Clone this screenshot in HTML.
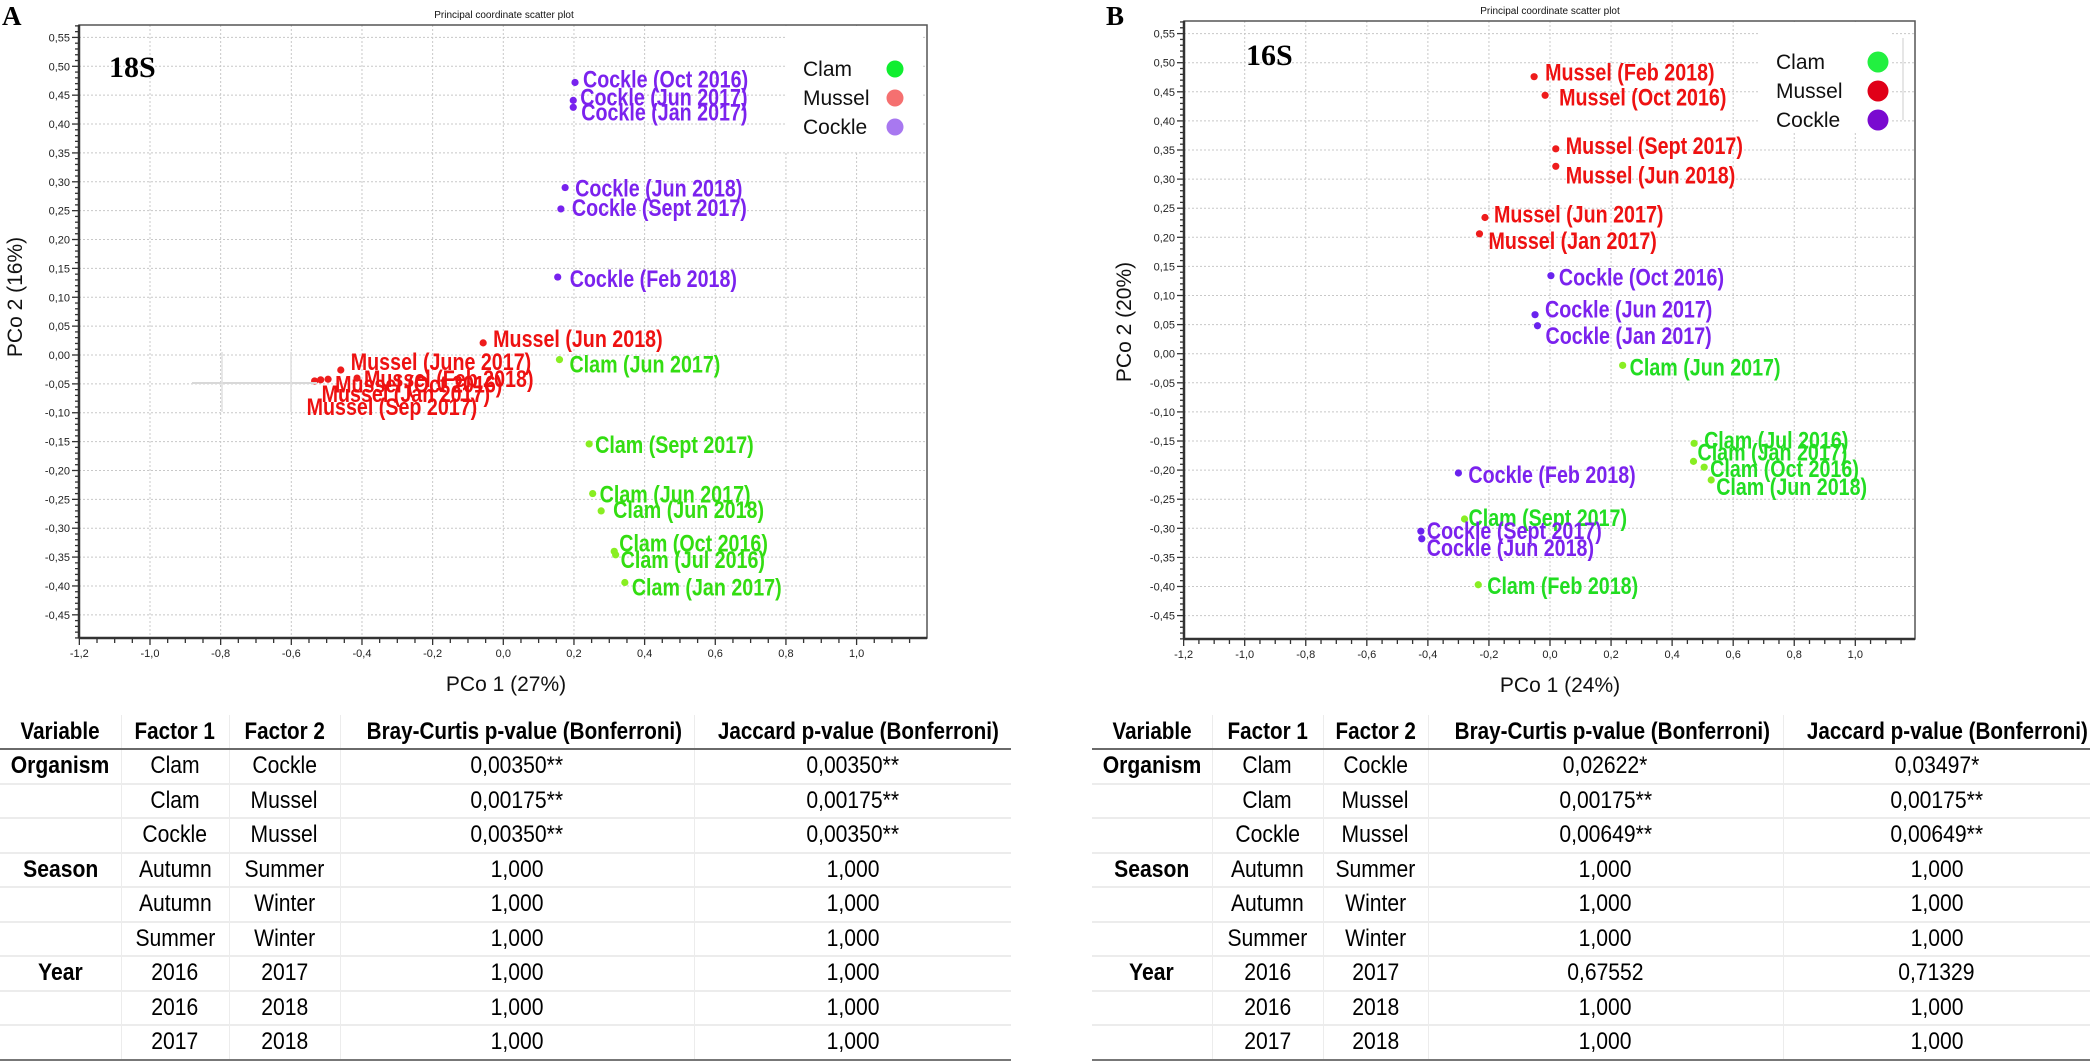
<!DOCTYPE html>
<html><head><meta charset="utf-8">
<style>
html,body{margin:0;padding:0;background:#fff;}
body{width:2094px;height:1064px;position:relative;overflow:hidden;font-family:"Liberation Sans",sans-serif;}
svg{position:absolute;left:0;top:0;}
table{position:absolute;border-collapse:collapse;table-layout:fixed;font-family:"Liberation Sans",sans-serif;}
td,th{padding:0;text-align:center;white-space:nowrap;overflow:visible;border-left:1px solid #ececec;}
td:first-child,th:first-child{border-left:none;}
th{height:33px;font-weight:bold;font-size:24px;border-bottom:2px solid #6a6a6a;}
td{height:32.5px;font-size:24px;border-bottom:2px solid #ececec;}
tr:last-child td{border-bottom:2px solid #777;}
th span{display:inline-block;transform:scaleX(0.86);}
td span{display:inline-block;transform:scaleX(0.88);}
td.v span{font-weight:bold;}
</style></head>
<body>
<svg id="chart" width="2094" height="1064" xmlns="http://www.w3.org/2000/svg"></svg>

<table style="left:0;top:715px;width:1011px;">
<colgroup><col style="width:121px"><col style="width:108px"><col style="width:111px"><col style="width:354px"><col style="width:317px"></colgroup>
<tr><th><span>Variable</span></th><th><span>Factor 1</span></th><th><span>Factor 2</span></th><th><span>Bray-Curtis p-value (Bonferroni)</span></th><th><span>Jaccard p-value (Bonferroni)</span></th></tr>
<tr><td class="v"><span>Organism</span></td><td><span>Clam</span></td><td><span>Cockle</span></td><td><span>0,00350**</span></td><td><span>0,00350**</span></td></tr>
<tr><td></td><td><span>Clam</span></td><td><span>Mussel</span></td><td><span>0,00175**</span></td><td><span>0,00175**</span></td></tr>
<tr><td></td><td><span>Cockle</span></td><td><span>Mussel</span></td><td><span>0,00350**</span></td><td><span>0,00350**</span></td></tr>
<tr><td class="v"><span>Season</span></td><td><span>Autumn</span></td><td><span>Summer</span></td><td><span>1,000</span></td><td><span>1,000</span></td></tr>
<tr><td></td><td><span>Autumn</span></td><td><span>Winter</span></td><td><span>1,000</span></td><td><span>1,000</span></td></tr>
<tr><td></td><td><span>Summer</span></td><td><span>Winter</span></td><td><span>1,000</span></td><td><span>1,000</span></td></tr>
<tr><td class="v"><span>Year</span></td><td><span>2016</span></td><td><span>2017</span></td><td><span>1,000</span></td><td><span>1,000</span></td></tr>
<tr><td></td><td><span>2016</span></td><td><span>2018</span></td><td><span>1,000</span></td><td><span>1,000</span></td></tr>
<tr><td></td><td><span>2017</span></td><td><span>2018</span></td><td><span>1,000</span></td><td><span>1,000</span></td></tr>
</table>

<table style="left:1092px;top:715px;width:998px;">
<colgroup><col style="width:120px"><col style="width:111px"><col style="width:105px"><col style="width:355px"><col style="width:307px"></colgroup>
<tr><th><span>Variable</span></th><th><span>Factor 1</span></th><th><span>Factor 2</span></th><th><span>Bray-Curtis p-value (Bonferroni)</span></th><th><span>Jaccard p-value (Bonferroni)</span></th></tr>
<tr><td class="v"><span>Organism</span></td><td><span>Clam</span></td><td><span>Cockle</span></td><td><span>0,02622*</span></td><td><span>0,03497*</span></td></tr>
<tr><td></td><td><span>Clam</span></td><td><span>Mussel</span></td><td><span>0,00175**</span></td><td><span>0,00175**</span></td></tr>
<tr><td></td><td><span>Cockle</span></td><td><span>Mussel</span></td><td><span>0,00649**</span></td><td><span>0,00649**</span></td></tr>
<tr><td class="v"><span>Season</span></td><td><span>Autumn</span></td><td><span>Summer</span></td><td><span>1,000</span></td><td><span>1,000</span></td></tr>
<tr><td></td><td><span>Autumn</span></td><td><span>Winter</span></td><td><span>1,000</span></td><td><span>1,000</span></td></tr>
<tr><td></td><td><span>Summer</span></td><td><span>Winter</span></td><td><span>1,000</span></td><td><span>1,000</span></td></tr>
<tr><td class="v"><span>Year</span></td><td><span>2016</span></td><td><span>2017</span></td><td><span>0,67552</span></td><td><span>0,71329</span></td></tr>
<tr><td></td><td><span>2016</span></td><td><span>2018</span></td><td><span>1,000</span></td><td><span>1,000</span></td></tr>
<tr><td></td><td><span>2017</span></td><td><span>2018</span></td><td><span>1,000</span></td><td><span>1,000</span></td></tr>
</table>

<script>
// ---- 18S data ----
const labels18 = ["Cockle (Oct 2016)","Cockle (Jun 2017)","Cockle (Jan 2017)","Cockle (Jun 2018)","Cockle (Sept 2017)","Cockle (Feb 2018)","Mussel (Jun 2018)","Clam (Jun 2017)","Clam (Sept 2017)","Clam (Jun 2017)","Clam (Jun 2018)","Clam (Oct 2016)","Clam (Jul 2016)","Clam (Jan 2017)","Mussel (June 2017)","Mussel (Feb 2018)","Mussel (Oct 2016)","Mussel (Jan 2017)","Mussel (Sep 2017)"];
const groups18 = ["Cockle","Cockle","Cockle","Cockle","Cockle","Cockle","Mussel","Clam","Clam","Clam","Clam","Clam","Clam","Clam","Mussel","Mussel","Mussel","Mussel","Mussel"];
const pco1_18 = [0.203,0.198,0.198,0.175,0.163,0.154,-0.057,0.159,0.243,0.253,0.277,0.314,0.318,0.344,-0.460,-0.414,-0.496,-0.517,-0.534];
const pco2_18 = [0.472,0.441,0.429,0.290,0.253,0.135,0.021,-0.008,-0.154,-0.240,-0.270,-0.340,-0.346,-0.394,-0.026,-0.040,-0.042,-0.043,-0.045];
const lblDx18 = [8,7,8,10,11,12,10,10,6,7,12,5,5,7,10,7,7,1,-8];
const lblDy18 = [5,5,13,9,7,10,4,13,9,9,7,0,13,13,0,9,13,22,34];
// ---- 16S data ----
const labels16 = ["Mussel (Feb 2018)","Mussel (Oct 2016)","Mussel (Sept 2017)","Mussel (Jun 2018)","Mussel (Jun 2017)","Mussel (Jan 2017)","Cockle (Oct 2016)","Cockle (Jun 2017)","Cockle (Jan 2017)","Clam (Jun 2017)","Clam (Jul 2016)","Clam (Jan 2017)","Clam (Oct 2016)","Clam (Jun 2018)","Cockle (Feb 2018)","Clam (Sept 2017)","Cockle (Sept 2017)","Cockle (Jun 2018)","Clam (Feb 2018)"];
const groups16 = ["Mussel","Mussel","Mussel","Mussel","Mussel","Mussel","Cockle","Cockle","Cockle","Clam","Clam","Clam","Clam","Clam","Cockle","Clam","Cockle","Cockle","Clam"];
const pco1_16 = [-0.052,-0.016,0.019,0.019,-0.213,-0.231,0.003,-0.049,-0.041,0.238,0.472,0.470,0.505,0.528,-0.300,-0.280,-0.423,-0.420,-0.235];
const pco2_16 = [0.476,0.444,0.352,0.322,0.234,0.206,0.134,0.067,0.048,-0.020,-0.154,-0.185,-0.195,-0.217,-0.205,-0.284,-0.305,-0.318,-0.397];
const lblDx16 = [11,14,10,10,9,9,8,10,8,7,10,4,6,5,10,4,6,5,9];
const lblDy16 = [4,10,5,17,5,15,10,3,18,10,5,-1,10,15,10,7,8,17,9];
// ---- axis ticks ----
const yTicks = [-0.45,-0.40,-0.35,-0.30,-0.25,-0.20,-0.15,-0.10,-0.05,0,0.05,0.10,0.15,0.20,0.25,0.30,0.35,0.40,0.45,0.50,0.55];
const xTicks = [-1.2,-1.0,-0.8,-0.6,-0.4,-0.2,0,0.2,0.4,0.6,0.8,1.0];
const legendNames = ["Clam","Mussel","Cockle"];

const NS = "http://www.w3.org/2000/svg";
const svg = document.getElementById("chart");
function mk(tag, attrs, parent){
  const e = document.createElementNS(NS, tag);
  for (const k in attrs) e.setAttribute(k, attrs[k]);
  (parent||svg).appendChild(e);
  return e;
}
function fmt(v, d){ return v.toFixed(d).replace(".", ",").replace(/^-0,00$/,"0,00").replace(/^-0,0$/,"0,0"); }

function drawPlot(cfg){
  const g = mk("g", {});
  
  
  const xs = v => cfg.x0 + v*cfg.xu;
  const ys = v => cfg.y0 - v*cfg.yu;
  const L = cfg.left, R = cfg.right, T = cfg.top, B = cfg.bottom;
  xTicks.forEach(t => {
    const gl = mk("line", {x1:xs(t), x2:xs(t), y1:T, y2:B, stroke:"#c8c8c8", "stroke-width":1, "stroke-dasharray":"2,2"}, g);
    
    
  });
  yTicks.forEach(t => {
    const gl = mk("line", {x1:L, x2:R, y1:ys(t), y2:ys(t), stroke:"#c8c8c8", "stroke-width":1, "stroke-dasharray":"2,2"}, g);
    
    
  });
  const lb = mk("rect", {x:cfg.legX-18, y:T+1, width:cfg.legW, height:cfg.legH, fill:"#fff"}, g);
  
  
  const fr = mk("rect", {x:L, y:T, width:R-L, height:B-T, fill:"none", stroke:"#555", "stroke-width":1.5}, g);
  
  
  mk("line", {x1:L, x2:R, y1:B, y2:B, stroke:"#333", "stroke-width":2.5}, g);
  mk("line", {x1:L, x2:L, y1:T, y2:B, stroke:"#333", "stroke-width":2.5}, g);
  for (let i=-49;i<=57;i++){
    const v=i/100, y=ys(v);
    if (y<T||y>B) continue;
    const major = (i%5===0);
    mk("line", {x1:L-(major?7:4), x2:L, y1:y, y2:y, stroke:"#333", "stroke-width":1.3}, g);
  }
  yTicks.forEach(t => {
    const tx = mk("text", {x:L-9, y:ys(t)+4, "text-anchor":"end", "font-size":11, fill:"#222"}, g);
    tx.textContent = fmt(t,2);
    
    
  });
  for (let i=-24;i<=24;i++){
    const v=i/20, x=xs(v);
    if (x<L-1||x>R) continue;
    const major = (i%4===0);
    mk("line", {x1:x, x2:x, y1:B, y2:B+(major?7:5), stroke:"#333", "stroke-width":1.3}, g);
  }
  xTicks.forEach(t => {
    const tx = mk("text", {x:xs(t), y:B+19, "text-anchor":"middle", "font-size":11, fill:"#222"}, g);
    tx.textContent = fmt(t,1);
    
    
  });
  const tt = mk("text", {x:cfg.titleX, y:T-7, "text-anchor":"middle", "font-size":10, fill:"#111"}, g);
  tt.textContent = "Principal coordinate scatter plot";
  
  
  const xt = mk("text", {x:cfg.xTitleX, y:B+53, "text-anchor":"middle", "font-size":21, fill:"#111"}, g);
  xt.textContent = cfg.xTitle;
  
  
  const yt = mk("text", {x:0, y:0, "text-anchor":"middle", "font-size":21, fill:"#111", transform:`translate(${cfg.yTitleX},${cfg.yTitleY}) rotate(-90)`}, g);
  yt.textContent = cfg.yTitle;
  
  
  const mt = mk("text", {x:cfg.markerX, y:cfg.markerY, "font-size":30, "font-weight":"bold", "font-family":"Liberation Serif, serif", fill:"#000"}, g);
  mt.textContent = cfg.marker;
  
  
  const pl = mk("text", {x:cfg.panelX, y:25, "font-size":27, "font-weight":"bold", "font-family":"Liberation Serif, serif", fill:"#000"}, g);
  pl.textContent = cfg.panel;
  
  
  legendNames.forEach((n,i) => {
    const lt = mk("text", {x:cfg.legX, y:cfg.legY+i*29+7, "font-size":21, fill:"#111"}, g);
    lt.textContent = n;
    
    
    const ld = mk("ellipse", {cx:cfg.legDotX, cy:cfg.legY+i*29, rx:cfg.legR, ry:cfg.legR, fill:cfg.legColors[n]}, g);
    
    
  });
  cfg.px.forEach((v,i) => {
    const cx = xs(v), cy = ys(cfg.py[i]);
    const grp = cfg.groups[i];
    const d = mk("circle", {cx:cx, cy:cy, r:3.6, fill:cfg.dotColors[grp]}, g);
    
    
    const t = mk("text", {x:0, y:0, "font-size":24, "font-weight":"bold", fill:cfg.textColors[grp], transform:`translate(${cx+cfg.dx[i]},${cy+cfg.dy[i]}) scale(0.82,1)`}, g);
    t.textContent = cfg.labels[i];
    
    
  });
}

drawPlot({name:"pco-plot-18s", x0:503.3, xu:353.3, y0:355, yu:577.4,
  left:79, right:927, top:25, bottom:638, titleX:504, xTitleX:506, xTitle:"PCo 1 (27%)",
  yTitleX:22, yTitleY:297, yTitle:"PCo 2 (16%)", marker:"18S", markerX:109, markerY:77,
  panel:"A", panelX:2, legX:803, legY:69, legDotX:895, legR:8.5, legW:136, legH:126,
  legColors:{Clam:"#10ee30",Mussel:"#f57070",Cockle:"#a878f0"},
  dotColors:{Clam:"#88ee22",Mussel:"#ee1c1c",Cockle:"#7722ee"},
  textColors:{Clam:"#33dd11",Mussel:"#ee1111",Cockle:"#7b22ee"},
  labels:labels18, groups:groups18, px:pco1_18, py:pco2_18, dx:lblDx18, dy:lblDy18});

drawPlot({name:"pco-plot-16s", x0:1550, xu:305.3, y0:353.7, yu:582,
  left:1184, right:1915, top:21, bottom:639, titleX:1550, xTitleX:1560, xTitle:"PCo 1 (24%)",
  yTitleX:1131, yTitleY:322, yTitle:"PCo 2 (20%)", marker:"16S", markerX:1246, markerY:65,
  panel:"B", panelX:1106, legX:1776, legY:62, legDotX:1878, legR:10.5, legW:134, legH:110,
  legColors:{Clam:"#22f040",Mussel:"#e00018",Cockle:"#7a0ad0"},
  dotColors:{Clam:"#88ee22",Mussel:"#ee1c1c",Cockle:"#6a22ee"},
  textColors:{Clam:"#22dd22",Mussel:"#ee1111",Cockle:"#7b22ee"},
  labels:labels16, groups:groups16, px:pco1_16, py:pco2_16, dx:lblDx16, dy:lblDy16});

const a1 = mk("line", {x1:192, x2:317, y1:383, y2:383, stroke:"#d8d8d8", "stroke-width":2});


const a2 = mk("line", {x1:222, x2:222, y1:352, y2:412, stroke:"#e0e0e0", "stroke-width":1.5});


const a3 = mk("line", {x1:291, x2:291, y1:352, y2:412, stroke:"#e0e0e0", "stroke-width":1.5});


const a4 = mk("line", {x1:1903, x2:1903, y1:38, y2:120, stroke:"#dddddd", "stroke-width":1.5});


</script>
</body></html>
